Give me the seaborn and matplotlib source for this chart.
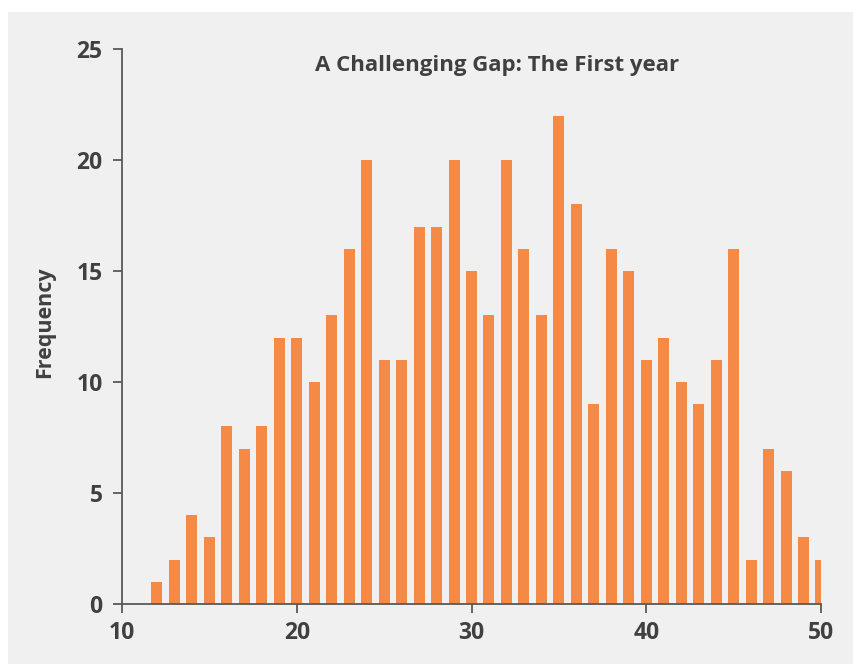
import numpy as np
import pandas as pd
import matplotlib
matplotlib.use("Agg")
import matplotlib.pyplot as plt
import matplotlib.patches as mpatches
import seaborn as sns

# values
ages = list(range(12, 51))
freq = [1, 2, 4, 3, 8, 7, 8, 12, 12, 10, 13, 16, 20, 11, 11, 17, 17, 20, 15, 13,
        20, 16, 13, 22, 18, 9, 16, 15, 11, 12, 10, 9, 11, 16, 2, 7, 6, 3, 2]
x_ticks = [10, 20, 30, 40, 50]
y_ticks = [0, 5, 10, 15, 20, 25]
title = "A Challenging Gap: The First year"
y_label = "Frequency"

bg = "#f0f0f0"
bar_color = "#f58a47"
text_color = "#404040"
spine_color = "#595959"

sns.set_theme(style="white")
plt.rcParams["font.family"] = ["Open Sans", "DejaVu Sans"]
plt.rcParams["font.weight"] = "bold"

df = pd.DataFrame({"age": ages, "freq": freq})

fig = plt.figure(figsize=(8.54, 6.64), dpi=100)
fig.patch.set_facecolor("white")
# light grey panel with a small white margin on the top and left
fig.add_artist(mpatches.Rectangle((8 / 854, 0), 1, 1 - 12 / 664,
                                  transform=fig.transFigure, facecolor=bg,
                                  edgecolor="none", zorder=-10))

ax = fig.add_axes([122 / 854, 1 - 604 / 664, (821 - 122) / 854, (604 - 49) / 664])
ax.set_facecolor(bg)

sns.barplot(data=df, x="age", y="freq", native_scale=True, width=0.63,
            color=bar_color, saturation=1, edgecolor="none", ax=ax)

ax.set_xlim(10, 50)
ax.set_ylim(0, 25)
ax.set_xticks(x_ticks)
ax.set_yticks(y_ticks)
ax.set_xlabel("")
ax.set_ylabel(y_label, fontsize=15.5, fontweight="bold", color=text_color)
ax.yaxis.set_label_coords((45 - 122) / 699, (604 - 322) / 555)
ax.yaxis.label.set_va("center")

for side in ["top", "right"]:
    ax.spines[side].set_visible(False)
for side in ["left", "bottom"]:
    ax.spines[side].set_color(spine_color)
    ax.spines[side].set_linewidth(1.3)
    ax.spines[side].set_zorder(5)

ax.tick_params(axis="both", which="major", direction="out", length=6.5, width=1.3,
               color=spine_color, labelsize=16.5, labelcolor=text_color,
               bottom=True, left=True)
ax.tick_params(axis="y", pad=7.5)
ax.tick_params(axis="x", pad=5.5)
for lbl in ax.get_xticklabels() + ax.get_yticklabels():
    lbl.set_fontweight("bold")

fig.text(497 / 854, 1 - 66 / 664, title, ha="center", va="center",
         fontsize=16, fontweight="bold", color=text_color)

fig.savefig("out.png", dpi=100, facecolor=fig.get_facecolor())
